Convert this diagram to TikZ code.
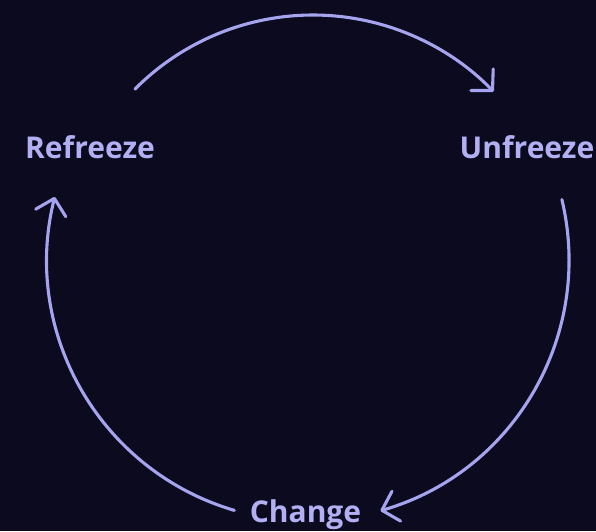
\documentclass[tikz,border=0pt]{standalone}
\usepackage{fontspec}
\setmainfont{Open Sans}
\usetikzlibrary{arrows.meta}
\definecolor{bg}{HTML}{0B0A1F}
\definecolor{ln}{HTML}{A6A4EE}
\definecolor{tx}{HTML}{B2B0F2}
\begin{document}
\begin{tikzpicture}[x=1pt,y=1pt,
  conn/.style={draw=ln, line width=3.1pt, line cap=round,
    -{Straight Barb[length=15pt,width=31pt,round]}},
  lbl/.style={text=tx, font=\fontsize{30}{34}\selectfont\bfseries, inner sep=0pt, anchor=base}]
\fill[bg] (0,0) rectangle (596,-531);
\useasboundingbox (0,0) rectangle (596,-531);
\coordinate (c) at (308,-260);
\coordinate (ct) at (313,-266);
\node[lbl] (refreeze) at (90,-158) {Refreeze};
\node[lbl] (unfreeze) at (527,-158) {Unfreeze};
\node[lbl] (change) at (305.5,-522) {Change};
% top arc: Refreeze -> Unfreeze
\draw[conn] ([shift={(135.2:251pt)}]ct) arc[start angle=135.2, end angle=44, radius=251pt];
% right arc: Unfreeze -> Change
\draw[conn] ([shift={(13.4:261pt)}]c) arc[start angle=13.4, end angle=-73.9, radius=261pt];
% left arc: Change -> Refreeze
\draw[conn] ([shift={(253.6:261pt)}]c) arc[start angle=253.6, end angle=166, radius=261pt];
\end{tikzpicture}
\end{document}
